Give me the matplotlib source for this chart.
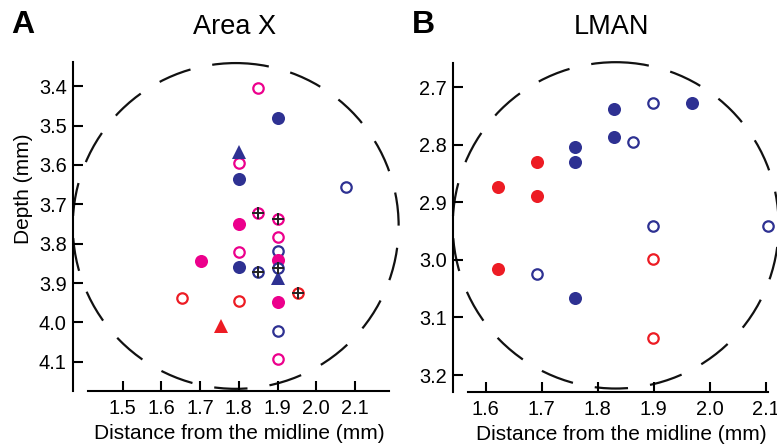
import numpy as np
import matplotlib
matplotlib.use('Agg')
import matplotlib.pyplot as plt
from matplotlib.patches import Ellipse

plt.rcParams['font.family'] = ['Liberation Sans', 'DejaVu Sans']

BLUE = '#2E3192'
PINK = '#EC008C'
RED = '#ED1C24'

# ---- Area X (panel A) ----
a_blue_fill_x = [1.90, 1.80, 1.80]
a_blue_fill_y = [3.480, 3.636, 3.859]
a_blue_open_x = [2.077, 1.90, 1.90]
a_blue_open_y = [3.656, 3.819, 4.022]
a_blue_cross_x = [1.85, 1.90]
a_blue_cross_y = [3.871, 3.863]
a_blue_tri_x = [1.80, 1.90]
a_blue_tri_y = [3.567, 3.888]
a_pink_fill_x = [1.80, 1.703, 1.90, 1.90]
a_pink_fill_y = [3.751, 3.844, 3.842, 3.949]
a_pink_open_x = [1.85, 1.80, 1.90, 1.80, 1.90]
a_pink_open_y = [3.404, 3.596, 3.782, 3.820, 4.093]
a_pink_cross_x = [1.85, 1.90]
a_pink_cross_y = [3.723, 3.738]
a_red_open_x = [1.653, 1.80]
a_red_open_y = [3.937, 3.946]
a_red_cross_x = [1.952]
a_red_cross_y = [3.925]
a_red_tri_x = [1.753]
a_red_tri_y = [4.009]

# ---- LMAN (panel B) ----
b_blue_fill_x = [1.829, 1.969, 1.829, 1.760, 1.760, 1.760]
b_blue_fill_y = [2.737, 2.728, 2.787, 2.803, 2.830, 3.067]
b_blue_open_x = [1.898, 1.863, 1.898, 2.104, 1.692]
b_blue_open_y = [2.728, 2.796, 2.941, 2.941, 3.025]
b_red_fill_x = [1.692, 1.622, 1.692, 1.622]
b_red_fill_y = [2.830, 2.873, 2.889, 3.016]
b_red_open_x = [1.898, 1.898]
b_red_open_y = [2.999, 3.135]

a_xticks = [1.5, 1.6, 1.7, 1.8, 1.9, 2.0, 2.1]
a_yticks = [3.4, 3.5, 3.6, 3.7, 3.8, 3.9, 4.0, 4.1]
b_xticks = [1.6, 1.7, 1.8, 1.9, 2.0, 2.1]
b_yticks = [2.7, 2.8, 2.9, 3.0, 3.1, 3.2]

TICK_FS = 14.4
LABEL_FS = 15


def filled(ax, x, y, c):
    ax.plot(x, y, 'o', ms=9.4, mfc=c, mec=c, mew=0, clip_on=False, zorder=3)


def opened(ax, x, y, c):
    ax.plot(x, y, 'o', ms=7.5, mfc='white', mec=c, mew=1.6, clip_on=False, zorder=3)


def crossed(ax, x, y, c):
    opened(ax, x, y, c)
    ax.plot(x, y, '+', ms=8, mec='#222222', mew=1.4, clip_on=False, zorder=4)


def tri(ax, x, y, c):
    ax.plot(x, y, '^', ms=10, mfc=c, mec=c, mew=0, clip_on=False, zorder=3)


def style(ax, xlim, ylim, xb, yb, xt, yt):
    ax.set_xlim(*xlim)
    ax.set_ylim(*ylim)
    for s in ['top', 'right']:
        ax.spines[s].set_visible(False)
    ax.spines['left'].set_linewidth(1.5)
    ax.spines['bottom'].set_linewidth(1.5)
    ax.spines['bottom'].set_bounds(*xb)
    ax.spines['left'].set_bounds(*yb)
    ax.set_xticks(xt)
    ax.set_yticks(yt)
    ax.set_xticklabels(['%.1f' % v for v in xt])
    ax.set_yticklabels(['%.1f' % v for v in yt])
    ax.tick_params(direction='in', length=7.2, width=1.5, labelsize=TICK_FS)
    ax.tick_params(axis='x', pad=6)
    ax.tick_params(axis='y', pad=4.5)
    ax.set_facecolor('none')


def xlabel(ax):
    ax.set_xlabel('Distance from the midline (mm)', fontsize=LABEL_FS)
    ax.xaxis.set_label_coords(0.518, -0.1437)
    ax.xaxis.label.set_verticalalignment('baseline')


fig = plt.figure(figsize=(7.77, 4.47), dpi=100)

# panel A
ax1 = fig.add_axes([73 / 777, 56 / 447, 322 / 777, 336 / 447])
style(ax1, (1.3716, 2.2036), (4.174, 3.321), (1.41, 2.188), (3.339, 4.174),
      a_xticks, a_yticks)
ax1.add_patch(Ellipse((1.792, 3.755), 0.842, 0.827, fill=False, ec='#111111',
                      lw=1.6, ls=(0, (15, 10)), clip_on=False, zorder=1))
opened(ax1, a_blue_open_x, a_blue_open_y, BLUE)
opened(ax1, a_pink_open_x, a_pink_open_y, PINK)
opened(ax1, a_red_open_x, a_red_open_y, RED)
filled(ax1, a_blue_fill_x, a_blue_fill_y, BLUE)
filled(ax1, a_pink_fill_x, a_pink_fill_y, PINK)
tri(ax1, a_blue_tri_x, a_blue_tri_y, BLUE)
tri(ax1, a_red_tri_x, a_red_tri_y, RED)
crossed(ax1, a_pink_cross_x, a_pink_cross_y, PINK)
crossed(ax1, a_blue_cross_x, a_blue_cross_y, BLUE)
crossed(ax1, a_red_cross_x, a_red_cross_y, RED)
xlabel(ax1)
ax1.set_ylabel('Depth (mm)', fontsize=LABEL_FS)
ax1.yaxis.set_label_coords(-0.155, 0.601)
ax1.yaxis.label.set_verticalalignment('center')

# panel B
ax2 = fig.add_axes([453.3 / 777, 55.3 / 447, 323.7 / 777, 336.7 / 447])
style(ax2, (1.542, 2.120), (3.229, 2.644), (1.569, 2.104), (2.658, 3.229),
      b_xticks, b_yticks)
ax2.add_patch(Ellipse((1.832, 2.940), 0.582, 0.567, fill=False, ec='#111111',
                      lw=1.6, ls=(0, (15, 10)), clip_on=False, zorder=1))
opened(ax2, b_blue_open_x, b_blue_open_y, BLUE)
opened(ax2, b_red_open_x, b_red_open_y, RED)
filled(ax2, b_blue_fill_x, b_blue_fill_y, BLUE)
filled(ax2, b_red_fill_x, b_red_fill_y, RED)
xlabel(ax2)

fig.text(235 / 777, 1 - 34.3 / 447, 'Area X', fontsize=19.5, ha='center', va='baseline')
fig.text(611 / 777, 1 - 34.3 / 447, 'LMAN', fontsize=19.5, ha='center', va='baseline')
fig.text(11 / 777, 1 - 33.3 / 447, 'A', fontsize=23, fontweight='bold', va='baseline')
fig.text(412 / 777, 1 - 33.3 / 447, 'B', fontsize=23, fontweight='bold', va='baseline')

fig.savefig('out.png', dpi=100)
